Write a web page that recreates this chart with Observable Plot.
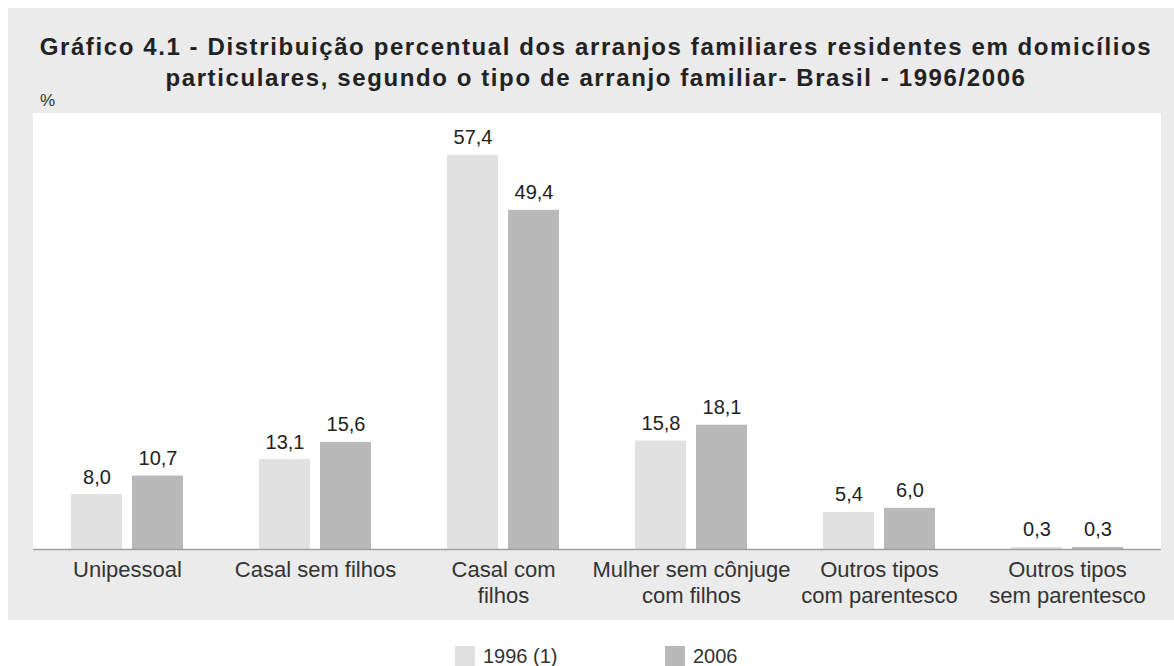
<!DOCTYPE html>
<html>
<head>
<meta charset="utf-8">
<script src="https://cdn.jsdelivr.net/npm/d3@7"></script>
<script src="https://cdn.jsdelivr.net/npm/@observablehq/plot@0.6"></script>
<style>
  html, body { margin: 0; padding: 0; background: #ffffff; }
  body { width: 1174px; height: 666px; position: relative; overflow: hidden; font-family: "Liberation Sans", Arial, sans-serif; }
  #panel { position: absolute; left: 8px; top: 8px; width: 1166px; height: 612px; background: #ebebeb; }
  #title { position: absolute; left: 10px; top: 23px; width: 1156px; text-align: center; font-weight: bold; font-size: 24px; letter-spacing: 1.6px; line-height: 31px; color: #222; white-space: nowrap; }
  #unit { position: absolute; left: 32px; top: 85px; font-size: 17px; line-height: 16px; color: #333; }
  #plotbg { position: absolute; left: 25px; top: 105px; width: 1128px; height: 436px; background: #ffffff; }
  #chart { position: absolute; left: 0; top: 92px; }
  #legend { position: absolute; left: 455px; top: 646px; display: flex; }
  .item { display: flex; align-items: flex-start; width: 210px; font-size: 20px; line-height: 20px; color: #333; }
  .sw { width: 20px; height: 20px; margin-right: 8px; }
</style>
</head>
<body>
<div id="panel">
  <div id="title">Gráfico 4.1 - Distribuição percentual dos arranjos familiares residentes em domicílios<br>particulares, segundo o tipo de arranjo familiar- Brasil - 1996/2006</div>
  <div id="unit">%</div>
  <div id="plotbg"></div>
  <div id="chart"></div>
</div>
<div id="legend"></div>
<script>
const categories = ["Unipessoal", "Casal sem filhos", "Casal com filhos", "Mulher sem cônjuge com filhos", "Outros tipos com parentesco", "Outros tipos sem parentesco"];
const categoryLabels = ["Unipessoal", "Casal sem filhos", "Casal com\nfilhos", "Mulher sem cônjuge\ncom filhos", "Outros tipos\ncom parentesco", "Outros tipos\nsem parentesco"];
const series = ["1996 (1)", "2006"];
const values1996 = [8.0, 13.1, 57.4, 15.8, 5.4, 0.3];
const values2006 = [10.7, 15.6, 49.4, 18.1, 6.0, 0.3];
const colors = ["#e1e1e1", "#b9b9b9"];

const data = categories.flatMap((c, i) => [
  {cat: c, year: series[0], v: values1996[i]},
  {cat: c, year: series[1], v: values2006[i]}
]);
const fmt = v => v.toFixed(1).replace(".", ",");
const axisColor = "#a0a0a0";

const W = 1166, ML = 25, MR = 13;
const half = (W - ML - MR) / categories.length / 2;

const chart = Plot.plot({
  width: W,
  height: 520,
  marginTop: 13,
  marginLeft: ML,
  marginRight: MR,
  marginBottom: 71,
  style: {background: "transparent", fontFamily: "'Liberation Sans', Arial, sans-serif", overflow: "visible"},
  fx: {domain: categories, padding: 0, label: null, axis: null},
  x: {domain: series, paddingInner: 0.16, paddingOuter: 0.6, axis: null},
  y: {domain: [0, 63.5], axis: null},
  color: {domain: series, range: colors},
  marks: [
    Plot.barY(data, {fx: "cat", x: "year", y: "v", fill: "year"}),
    Plot.text(data, {fx: "cat", x: "year", y: "v", text: d => fmt(d.v), dy: -11, lineAnchor: "bottom", fontSize: 20, fill: "#222"}),
    Plot.ruleY([0], {stroke: axisColor, strokeWidth: 1.5}),
    Plot.ruleX(categories, {fx: d => d, y1: 0, y2: -0.75, dx: -half, stroke: axisColor}),
    Plot.ruleX(categories, {fx: d => d, y1: 0, y2: -0.75, dx: half, stroke: axisColor}),
    Plot.text(categories, {fx: d => d, frameAnchor: "bottom", dy: 10, lineAnchor: "top", fontSize: 22, lineHeight: 1.15, fill: "#333",
      text: d => categoryLabels[categories.indexOf(d)]})
  ]
});
document.getElementById("chart").appendChild(chart);

const legend = document.getElementById("legend");
series.forEach((s, i) => {
  const item = document.createElement("div");
  item.className = "item";
  const sw = document.createElement("div");
  sw.className = "sw";
  sw.style.background = colors[i];
  const t = document.createElement("span");
  t.textContent = s;
  item.appendChild(sw);
  item.appendChild(t);
  legend.appendChild(item);
});
</script>
</body>
</html>
